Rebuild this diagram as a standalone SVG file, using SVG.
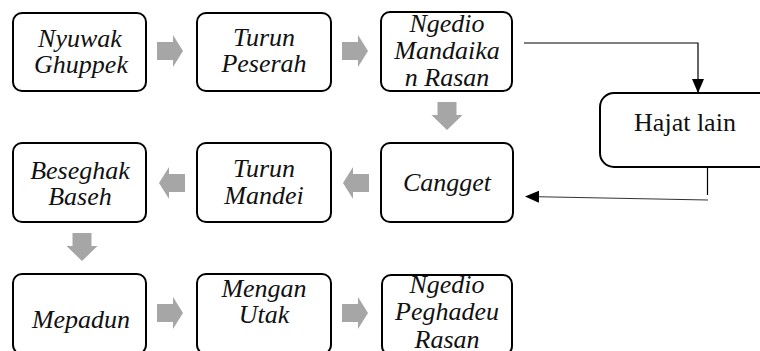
<svg xmlns="http://www.w3.org/2000/svg" width="760" height="351" viewBox="0 0 760 351">
<defs>
<path id="ar" d="M0,-9 H16 V-16 L26,0 L16,16 V9 H0 Z" fill="#a6a6a6"/>
<path id="al" d="M0,-9 H-16 V-16 L-26,0 L-16,16 V9 H0 Z" fill="#a6a6a6"/>
<path id="ad" d="M-9.5,0 H9.5 V13 H15.5 L0,28 L-15.5,13 H-9.5 Z" fill="#a6a6a6"/>
<marker id="mh" markerWidth="14" markerHeight="14" refX="13" refY="7" orient="auto" markerUnits="userSpaceOnUse">
<path d="M0,1 L14,7 L0,13 Z" fill="#000"/>
</marker>
</defs>
<rect width="760" height="351" fill="#fff"/>
<g id="connectors" fill="none" stroke="#000" stroke-width="1.2">
<use href="#ar" x="157" y="51" stroke="none"/>
<use href="#ar" x="342" y="51" stroke="none"/>
<use href="#ad" x="447" y="102" stroke="none"/>
<use href="#al" x="185" y="183" stroke="none"/>
<use href="#al" x="369" y="183" stroke="none"/>
<use href="#ad" x="82" y="233" stroke="none"/>
<use href="#ar" x="157" y="313" stroke="none"/>
<use href="#ar" x="342" y="313" stroke="none"/>
<path d="M524,43 H698 V92" marker-end="url(#mh)"/>
<path d="M707.5,167 V195"/>
<path d="M708,200 L526,196.5" marker-end="url(#mh)" stroke="#333"/>
</g>
<g id="n1"><rect fill="#fff" stroke="#000" stroke-width="2" x="13" y="13" width="133" height="78" rx="9"/><text x="80" y="47" style="font-family:'Liberation Serif',serif;font-style:italic;font-size:26px;text-anchor:middle;fill:#111">Nyuwak</text><text x="81" y="73" style="font-family:'Liberation Serif',serif;font-style:italic;font-size:26px;text-anchor:middle;fill:#111">Ghuppek</text></g>
<g id="n2"><rect fill="#fff" stroke="#000" stroke-width="2" x="197" y="13" width="134" height="78" rx="9"/><text x="264" y="46" style="font-family:'Liberation Serif',serif;font-style:italic;font-size:26px;text-anchor:middle;fill:#111">Turun</text><text x="264" y="72" style="font-family:'Liberation Serif',serif;font-style:italic;font-size:26px;text-anchor:middle;fill:#111">Peserah</text></g>
<g id="n3"><rect fill="#fff" stroke="#000" stroke-width="2" x="381" y="12" width="131" height="79" rx="9"/><text x="447" y="32" style="font-family:'Liberation Serif',serif;font-style:italic;font-size:26px;text-anchor:middle;fill:#111">Ngedio</text><text x="447" y="59" style="font-family:'Liberation Serif',serif;font-style:italic;font-size:26px;text-anchor:middle;fill:#111">Mandaika</text><text x="447" y="86" style="font-family:'Liberation Serif',serif;font-style:italic;font-size:26px;text-anchor:middle;fill:#111">n Rasan</text></g>
<g id="n4"><rect fill="#fff" stroke="#000" stroke-width="2" x="600" y="93" width="175" height="74" rx="14"/><text x="685" y="131" style="font-family:'Liberation Serif',serif;font-size:26px;text-anchor:middle;fill:#111">Hajat lain</text></g>
<g id="n5"><rect fill="#fff" stroke="#000" stroke-width="2" x="381" y="143" width="132" height="79" rx="9"/><text x="447" y="191" style="font-family:'Liberation Serif',serif;font-style:italic;font-size:26px;text-anchor:middle;fill:#111">Cangget</text></g>
<g id="n6"><rect fill="#fff" stroke="#000" stroke-width="2" x="197" y="143" width="134" height="79" rx="9"/><text x="264" y="177" style="font-family:'Liberation Serif',serif;font-style:italic;font-size:26px;text-anchor:middle;fill:#111">Turun</text><text x="264" y="204" style="font-family:'Liberation Serif',serif;font-style:italic;font-size:26px;text-anchor:middle;fill:#111">Mandei</text></g>
<g id="n7"><rect fill="#fff" stroke="#000" stroke-width="2" x="13" y="143" width="133" height="79" rx="9"/><text x="80" y="179" style="font-family:'Liberation Serif',serif;font-style:italic;font-size:26px;text-anchor:middle;fill:#111">Beseghak</text><text x="80" y="205" style="font-family:'Liberation Serif',serif;font-style:italic;font-size:26px;text-anchor:middle;fill:#111">Baseh</text></g>
<g id="n8"><rect fill="#fff" stroke="#000" stroke-width="2" x="13" y="274" width="133" height="80" rx="9"/><text x="81" y="328" style="font-family:'Liberation Serif',serif;font-style:italic;font-size:26px;text-anchor:middle;fill:#111">Mepadun</text></g>
<g id="n9"><rect fill="#fff" stroke="#000" stroke-width="2" x="197" y="274" width="134" height="80" rx="9"/><text x="264" y="297" style="font-family:'Liberation Serif',serif;font-style:italic;font-size:26px;text-anchor:middle;fill:#111">Mengan</text><text x="264" y="323" style="font-family:'Liberation Serif',serif;font-style:italic;font-size:26px;text-anchor:middle;fill:#111">Utak</text></g>
<g id="n10"><rect fill="#fff" stroke="#000" stroke-width="2" x="382" y="275" width="130" height="80" rx="9"/><text x="447" y="293" style="font-family:'Liberation Serif',serif;font-style:italic;font-size:26px;text-anchor:middle;fill:#111">Ngedio</text><text x="447" y="320" style="font-family:'Liberation Serif',serif;font-style:italic;font-size:26px;text-anchor:middle;fill:#111">Peghadeu</text><text x="447" y="348" style="font-family:'Liberation Serif',serif;font-style:italic;font-size:26px;text-anchor:middle;fill:#111">Rasan</text></g>
</svg>
